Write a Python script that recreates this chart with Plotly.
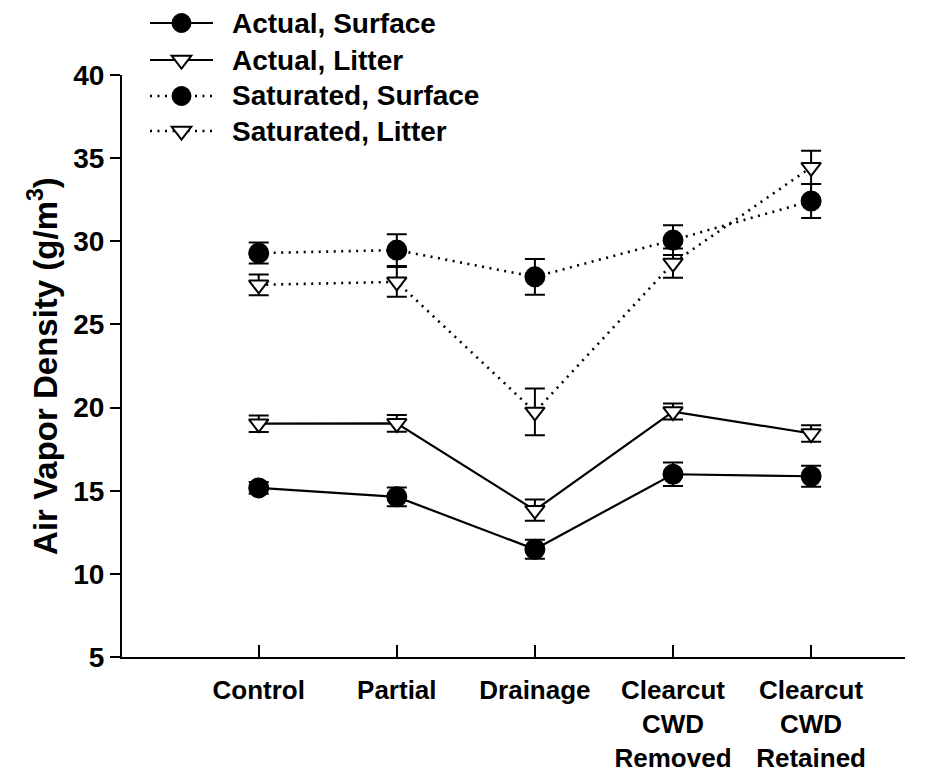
import plotly.graph_objects as go

categories = ["Control", "Partial", "Drainage", "Clearcut<br>CWD<br>Removed", "Clearcut<br>CWD<br>Retained"]

actual_surface = [15.17, 14.63, 11.48, 15.99, 15.87]
actual_surface_err = [0.35, 0.57, 0.57, 0.71, 0.63]

actual_litter = [19.03, 19.05, 13.83, 19.76, 18.44]
actual_litter_err = [0.5, 0.5, 0.64, 0.48, 0.5]

sat_surface = [29.29, 29.47, 27.86, 30.07, 32.42]
sat_surface_err = [0.63, 0.96, 1.08, 0.9, 1.02]

sat_litter = [27.38, 27.56, 19.74, 28.69, 34.45]
sat_litter_err = [0.62, 0.9, 1.4, 0.88, 1.0]

legend_names = ["Actual, Surface", "Actual, Litter", "Saturated, Surface", "Saturated, Litter"]

FONT = "Liberation Sans, Arial, sans-serif"
DOT = "2px,5.5px"

W, H = 935, 773
ML, MR, MT, MB = 122, 30, 75, 116
PW, PH = W - ML - MR, H - MT - MB

styles = [
    dict(symbol="circle", size=19, fill="black", dash="solid"),
    dict(symbol="triangle-down", size=17, fill="white", dash="solid"),
    dict(symbol="circle", size=19, fill="black", dash=DOT),
    dict(symbol="triangle-down", size=17, fill="white", dash=DOT),
]
series = [
    (actual_surface, actual_surface_err),
    (actual_litter, actual_litter_err),
    (sat_surface, sat_surface_err),
    (sat_litter, sat_litter_err),
]


def lw(st):
    return 2.2 if st["dash"] == "solid" else 2.6


fig = go.Figure()
for (vals, errs), st, name in zip(series, styles, legend_names):
    fig.add_trace(go.Scatter(
        x=categories, y=vals, name=name, mode="lines+markers",
        line=dict(color="black", width=lw(st), dash=st["dash"]),
        marker=dict(symbol=st["symbol"], size=st["size"], color=st["fill"],
                    line=dict(color="black", width=2)),
        error_y=dict(type="data", array=errs, visible=True, color="black", thickness=2, width=10),
        showlegend=False, cliponaxis=False,
    ))


# custom legend drawn with paper-referenced shapes (figure pixel positions converted)
def px_x(p):
    return (p - ML) / PW


def px_y(p):
    return (H - MB - p) / PH


leg_y = [23, 60, 96, 131]
for name, st, yy in zip(legend_names, styles, leg_y):
    fig.add_shape(type="line", xref="paper", yref="paper",
                  x0=px_x(150), x1=px_x(213), y0=px_y(yy), y1=px_y(yy),
                  line=dict(color="black", width=lw(st), dash=st["dash"]))
    if st["symbol"] == "circle":
        r = st["size"] / 2
        fig.add_shape(type="circle", xref="paper", yref="paper",
                      xsizemode="pixel", ysizemode="pixel",
                      xanchor=px_x(181.5), yanchor=px_y(yy),
                      x0=-r, x1=r, y0=-r, y1=r,
                      fillcolor="black", line=dict(color="black", width=1))
    else:
        r = st["size"] / 2
        rt = r * 2 / 3 ** 0.5
        path = f"M{-rt:.2f},{r/2:.2f} L{rt:.2f},{r/2:.2f} L0,{-r:.2f} Z"
        fig.add_shape(type="path", xref="paper", yref="paper",
                      xsizemode="pixel", ysizemode="pixel",
                      xanchor=px_x(181.5), yanchor=px_y(yy), path=path,
                      fillcolor="white", line=dict(color="black", width=2))
    fig.add_annotation(x=px_x(230), y=px_y(yy), xref="paper", yref="paper", text=name,
                       showarrow=False, xanchor="left", yanchor="middle",
                       font=dict(family=FONT, size=28, color="black", weight="bold"))

fig.update_layout(
    width=W, height=H,
    margin=dict(l=ML, r=MR, t=MT, b=MB, autoexpand=False),
    paper_bgcolor="white", plot_bgcolor="white",
    font=dict(family=FONT, size=28, color="black", weight="bold"),
    showlegend=False,
    xaxis=dict(
        type="category", range=[-0.99, 4.68], automargin=False,
        showline=True, linecolor="black", linewidth=2,
        ticks="inside", ticklen=12, tickwidth=2, tickcolor="black",
        showgrid=False, zeroline=False, ticklabelstandoff=9,
        tickfont=dict(family=FONT, size=26, color="black", weight="bold"),
    ),
    yaxis=dict(
        range=[5, 40], dtick=5, tick0=5, automargin=False,
        showline=True, linecolor="black", linewidth=2,
        ticks="outside", ticklen=10, tickwidth=2, tickcolor="black",
        showgrid=False, zeroline=False,
        tickfont=dict(family=FONT, size=28, color="black", weight="bold"),
        title=dict(text="Air Vapor Density (g/m<sup>3</sup>)", standoff=6,
                   font=dict(family=FONT, size=33, color="black", weight="bold")),
    ),
)

fig.write_html("out.html")
